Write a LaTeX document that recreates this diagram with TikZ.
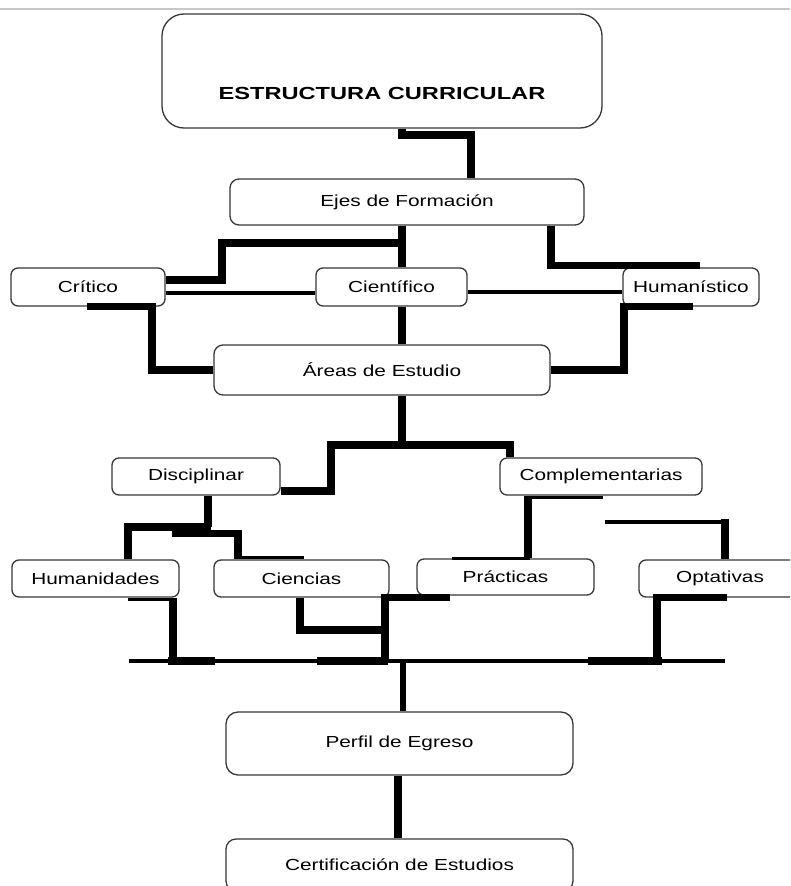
\documentclass[tikz,border=0pt]{standalone}
\usepackage{fontspec}
\setmainfont{Liberation Sans}
\usepackage{graphicx}
\usetikzlibrary{calc}

% horizontally widened label text
\newcommand{\widetxt}[1]{\scalebox{1.3}[1]{#1}}

\begin{document}
\begin{tikzpicture}[x=1pt,y=-1pt,
  box/.style={draw=black!78, line width=1.3pt, rounded corners=7pt, fill=white,
    inner sep=0pt, text=black, font=\fontsize{16}{19}\selectfont},
  conn/.style={line width=7.5pt, black},
  mid/.style={line width=4.2pt, black},
  fine/.style={line width=3pt, black},
]
\useasboundingbox (0,0) rectangle (790,886);
\clip (0,0) rectangle (790,886);

% page edge
\draw[line width=2.5pt, black!22] (0,9) -- (790,9);

% ---- boxes ----
\node[box, rounded corners=22pt, minimum width=440pt, minimum height=114pt,
  text height=57pt, text depth=0pt, font=\bfseries\fontsize{17.5}{20}\selectfont]
  (title) at (382,71) {\scalebox{1.35}[1]{ESTRUCTURA CURRICULAR}};
\node[box, rounded corners=9pt, minimum width=354pt, minimum height=46pt]
  (ejes) at (407,202) {\widetxt{Ejes de Formación}};

\node[box, minimum width=154pt, minimum height=38pt] (critico) at (88,287) {\widetxt{Crítico}};
\node[box, minimum width=151pt, minimum height=38pt] (cientifico) at (391.5,287) {\widetxt{Científico}};
\node[box, minimum width=136pt, minimum height=38pt] (humanistico) at (691,287) {\widetxt{Humanístico}};

\node[box, rounded corners=9pt, minimum width=336pt, minimum height=50pt]
  (areas) at (382,370) {\widetxt{Áreas de Estudio}};

\node[box, minimum width=168pt, minimum height=37pt] (disciplinar) at (196,476.5) {\widetxt{Disciplinar}};
\node[box, minimum width=202pt, minimum height=37pt] (complementarias) at (601,476.5) {\widetxt{Complementarias}};

\node[box, minimum width=167pt, minimum height=37pt] (humanidades) at (95.5,578.5) {\widetxt{Humanidades}};
\node[box, minimum width=175pt, minimum height=37pt] (ciencias) at (301.5,578.5) {\widetxt{Ciencias}};
\node[box, minimum width=177pt, minimum height=36pt] (practicas) at (505.5,577) {\widetxt{Prácticas}};
\node[box, minimum width=162pt, minimum height=37pt] (optativas) at (720,578.5) {\widetxt{Optativas}};

\node[box, rounded corners=12pt, minimum width=347pt, minimum height=63pt]
  (perfil) at (399.5,743.5) {\widetxt{Perfil de Egreso}};
\node[box, rounded corners=10pt, minimum width=347pt, minimum height=52pt]
  (cert) at (399.5,865) {\widetxt{Certificación de Estudios}};

% ---- free ends ----
\coordinate (stray) at (605,522);
\coordinate (busL) at (129,661);
\coordinate (busR) at (725,661);

% ---- connectors ----
% title to axes
\draw[conn] (title.south -| 402,0) -- (402,135) -- (471,135) -- (ejes.north -| 471,0);

% axes to the three branches
\draw[conn] (ejes.south -| 402,0) -- (402,243) -- (222,243) -- (222,280) -- (critico.east |- 0,280);
\draw[conn] (ejes.south -| 402,0) -- (cientifico.north -| 402,0);
\draw[conn] (ejes.south -| 551,0) |- ([yshift=2pt]humanistico.north -| 700,0);

\draw[mid] (critico.east |- 0,293) -- (cientifico.west |- 0,293);
\draw[mid] (cientifico.east |- 0,292) -- (humanistico.west |- 0,292);

% branches to study areas
\draw[conn] (critico.south -| 87,0) -| (152,370) -- (areas.west);
\draw[conn] (humanistico.south -| 693,0) -| (624,370) -- (areas.east);
\draw[conn] (cientifico.south -| 402,0) -- (areas.north -| 402,0);

% study areas to the two groups
\draw[conn] (areas.south -| 402,0) -- (402,445);
\draw[conn] (disciplinar.east |- 0,491) -| (331,445) -| (complementarias.north -| 510,0);

% disciplinary group
\draw[conn] (disciplinar.south -| 208,0) -- (208,527);
\draw[conn] (humanidades.north -| 128,0) |- (211,527);
\draw[conn] (172,533.5) -| (ciencias.north -| 238,0);
\draw[fine] ([yshift=1.5pt]ciencias.north -| 238,0) -- ([yshift=1.5pt]ciencias.north -| 304,0);

% complementary group
\draw[conn] (complementarias.south -| 528,0) -- (practicas.north -| 528,0);
\draw[fine] ([yshift=-1.5pt]complementarias.south -| 526,0) -- ([yshift=-1.5pt]complementarias.south -| 603,0);
\draw[fine] (practicas.north -| 452,0) -- (practicas.north -| 530,0);
\draw[mid] (stray) -- (727,522);
\draw[conn] (725,519) -- (optativas.north -| 725,0);

% groups down to the collecting bar
\draw[fine] ([yshift=-1.5pt]humanidades.south -| 128,0) -- ([yshift=-1.5pt]humanidades.south -| 177,0);
\draw[conn] (humanidades.south -| 173,0) -- (173,661);
\draw[conn] (ciencias.south -| 300,0) |- (385,630);
\draw[conn] ([yshift=-2pt]practicas.south -| 450,0) -| (385,661);
\draw[conn] (optativas.south -| 727,0) -| (657,661);

% collecting bar
\draw[mid] (busL) -- (busR);
\draw[conn] (168,661) -- (215,661);
\draw[conn] (317,661) -- (388,661);
\draw[conn] (588,661) -- (662,661);

% to the graduate profile and certification
\draw[line width=5.5pt] (403,661) -- (perfil.north -| 403,0);
\draw[conn] (perfil.south -| 398,0) -- (cert.north -| 398,0);

\end{tikzpicture}
\end{document}
